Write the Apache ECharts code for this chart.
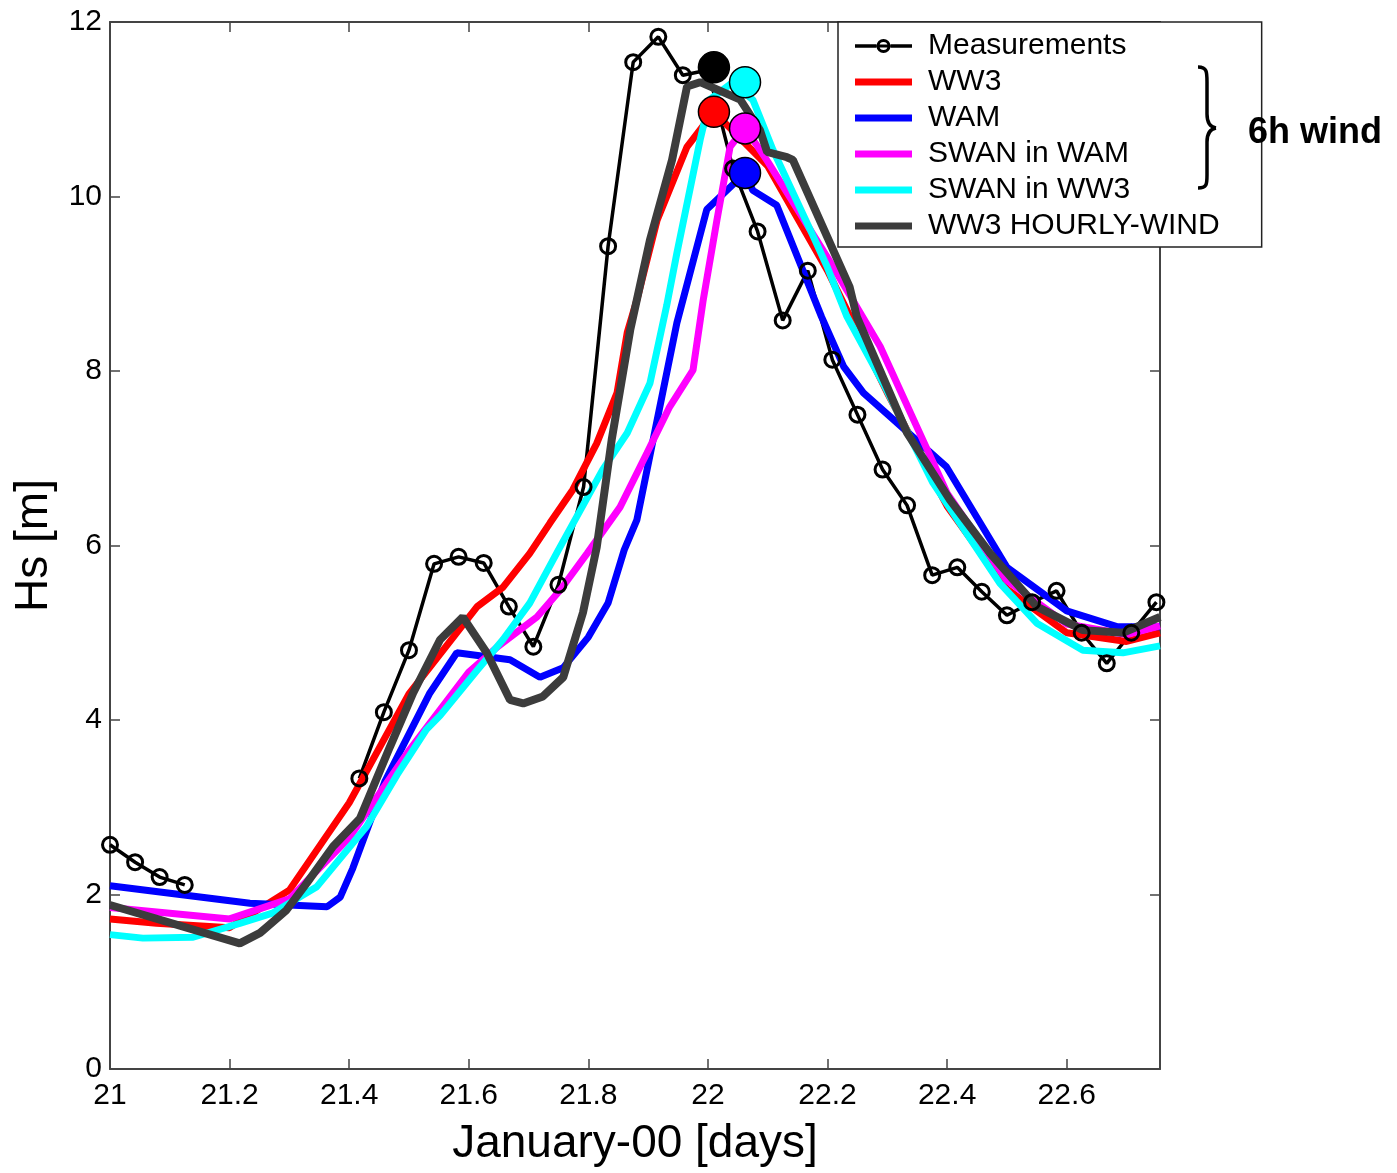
<!DOCTYPE html>
<html>
<head>
<meta charset="utf-8">
<title>Hs January-00</title>
<script src="https://cdn.jsdelivr.net/npm/echarts@6.0.0/dist/echarts.min.js"></script>
<style>
	html, body { margin: 0; padding: 0; background: #fff; }
	#hs { width: 1397px; height: 1173px; }
</style>
</head>
<body>
<div id="hs"></div>
<script>
// hourly buoy measurements (null = not shown)
var measTime = [21.000, 21.042, 21.083, 21.125, 21.167, 21.208, 21.250, 21.292, 21.333, 21.375,
	21.417, 21.458, 21.500, 21.542, 21.583, 21.625, 21.667, 21.708, 21.750, 21.792,
	21.833, 21.875, 21.917, 21.958, 22.000, 22.042, 22.083, 22.125, 22.167, 22.208,
	22.250, 22.292, 22.333, 22.375, 22.417, 22.458, 22.500, 22.542, 22.583, 22.625,
	22.667, 22.708, 22.750];
var measHs = [2.57, 2.37, 2.20, 2.11, null, null, null, null, null, null,
	3.33, 4.09, 4.80, 5.79, 5.87, 5.80, 5.30, 4.84, 5.55, 6.67,
	9.43, 11.54, 11.83, 11.39, 11.45, 10.32, 9.60, 8.58, 9.15, 8.13,
	7.50, 6.87, 6.46, 5.66, 5.75, 5.47, 5.20, 5.35, 5.48, 5.00,
	4.65, 5.00, 5.35];

// WW3, 6h wind
var ww3Time = [21.000, 21.078, 21.200, 21.300, 21.400, 21.500, 21.614, 21.657, 21.702, 21.736,
	21.774, 21.814, 21.848, 21.865, 21.881, 21.915, 21.965, 22.010, 22.100, 22.200,
	22.300, 22.400, 22.500, 22.600, 22.700, 22.756];
var ww3Hs = [1.72, 1.67, 1.62, 2.05, 3.05, 4.30, 5.30, 5.52, 5.91, 6.26,
	6.64, 7.17, 7.75, 8.44, 8.81, 9.73, 10.57, 10.97, 10.35, 9.15,
	7.75, 6.45, 5.50, 5.00, 4.90, 5.00];

// WAM, 6h wind
var wamTime = [21.000, 21.234, 21.363, 21.385, 21.406, 21.460, 21.535, 21.580, 21.669, 21.719,
	21.758, 21.800, 21.833, 21.860, 21.881, 21.948, 21.998, 22.062, 22.075, 22.115,
	22.190, 22.227, 22.260, 22.399, 22.500, 22.600, 22.684, 22.756];
var wamHs = [2.10, 1.90, 1.86, 1.97, 2.30, 3.30, 4.31, 4.77, 4.69, 4.49,
	4.60, 4.95, 5.34, 5.95, 6.29, 8.55, 9.85, 10.27, 10.07, 9.90,
	8.62, 8.05, 7.75, 6.90, 5.75, 5.25, 5.07, 5.07];

// SWAN nested in WAM
var swanWamTime = [21.000, 21.200, 21.300, 21.400, 21.500, 21.600, 21.650, 21.714, 21.753, 21.798,
	21.853, 21.898, 21.936, 21.975, 21.992, 22.015, 22.037, 22.062, 22.100, 22.150,
	22.200, 22.288, 22.400, 22.500, 22.600, 22.700, 22.756];
var swanWamHs = [1.85, 1.72, 1.95, 2.65, 3.65, 4.55, 4.85, 5.18, 5.49, 5.91,
	6.44, 7.06, 7.59, 8.01, 8.81, 9.73, 10.57, 10.79, 10.40, 9.85,
	9.30, 8.28, 6.60, 5.60, 5.10, 4.98, 5.08];

// SWAN nested in WW3
var swanWw3Time = [21.000, 21.055, 21.139, 21.217, 21.273, 21.346, 21.429, 21.480, 21.529, 21.552,
	21.614, 21.657, 21.702, 21.750, 21.824, 21.865, 21.903, 21.931, 21.948, 21.987,
	22.003, 22.040, 22.075, 22.109, 22.171, 22.199, 22.232, 22.293, 22.376, 22.488,
	22.550, 22.627, 22.694, 22.756];
var swanWw3Hs = [1.54, 1.50, 1.51, 1.67, 1.79, 2.09, 2.78, 3.37, 3.89, 4.05,
	4.57, 4.92, 5.34, 5.95, 6.87, 7.29, 7.86, 8.75, 9.35, 10.65,
	11.11, 11.30, 11.11, 10.53, 9.62, 9.20, 8.63, 7.86, 6.72, 5.57,
	5.11, 4.80, 4.77, 4.85];

// WW3, hourly wind
var hourlyTime = [21.000, 21.217, 21.251, 21.295, 21.329, 21.373, 21.418, 21.468, 21.507, 21.552,
	21.590, 21.630, 21.669, 21.691, 21.724, 21.758, 21.791, 21.814, 21.839, 21.870,
	21.903, 21.940, 21.965, 21.987, 22.054, 22.087, 22.099, 22.132, 22.142, 22.187,
	22.237, 22.249, 22.333, 22.405, 22.472, 22.550, 22.627, 22.694, 22.756];
var hourlyHs = [1.88, 1.44, 1.56, 1.82, 2.13, 2.55, 2.87, 3.69, 4.31, 4.92,
	5.18, 4.77, 4.23, 4.19, 4.27, 4.49, 5.23, 5.98, 7.21, 8.47,
	9.50, 10.42, 11.26, 11.31, 11.11, 10.76, 10.51, 10.45, 10.42, 9.73,
	8.96, 8.62, 7.29, 6.52, 5.91, 5.30, 5.03, 5.00, 5.18];

// peak markers
var peakName = ['Measurements', 'SWAN in WW3', 'WW3', 'SWAN in WAM', 'WAM'];
var peakTime = [22.010, 22.062, 22.010, 22.062, 22.062];
var peakHs = [11.48, 11.31, 10.97, 10.78, 10.27];

var legendNames = ['Measurements', 'WW3', 'WAM', 'SWAN in WAM', 'SWAN in WW3', 'WW3 HOURLY-WIND'];

var xTicks = { min: 21, max: 22.756, step: 0.2 };
var yTicks = { min: 0, max: 12, step: 2 };

var FONT = '"Liberation Sans", Arial, sans-serif';
var colors = {
	'Measurements': '#000000',
	'WW3': '#ff0000',
	'WAM': '#0000ff',
	'SWAN in WAM': '#ff00ff',
	'SWAN in WW3': '#00ffff',
	'WW3 HOURLY-WIND': '#3c3c3c'
};
// legend swatches, drawn in a 57x14 box (hair slivers keep the box size)
var BAND_ICON = 'path://M0,0L57,0L57,0.05L0,0.05Z M0,3.5L57,3.5L57,10.5L0,10.5Z M0,13.95L57,13.95L57,14L0,14Z';
var MEAS_ICON = 'path://M0,5.25L21.5,5.25L21.5,8.75L0,8.75Z M35.5,5.25L57,5.25L57,8.75L35.5,8.75Z' +
	' M21.5,7A7,7 0 1,1 35.5,7A7,7 0 1,1 21.5,7Z M24.5,7A4,4 0 1,0 32.5,7A4,4 0 1,0 24.5,7Z' +
	' M24.5,5.6L32.5,5.6L32.5,8.4L24.5,8.4Z';

function pairs(t, v) {
	var out = [];
	for (var i = 0; i < t.length; i++) {
		out.push([t[i], v[i] == null ? '-' : v[i]]);
	}
	return out;
}

function modelLine(name, t, v, w) {
	return {
		name: name,
		type: 'line',
		data: pairs(t, v),
		symbol: 'none',
		color: colors[name],
		lineStyle: { color: colors[name], width: w },
		z: 2
	};
}

function frameAxis(kind, pos, lim, main) {
	return {
		type: 'value',
		position: pos,
		min: lim.min,
		max: lim.max,
		interval: lim.step,
		axisLine: { show: true, onZero: false, lineStyle: { color: '#444', width: 2 } },
		axisTick: { show: true, inside: true, length: 10, lineStyle: { color: '#444', width: 1.5 } },
		axisLabel: { show: main, fontSize: 30, color: '#000', fontFamily: FONT, margin: kind == 'x' ? 12 : 8, showMaxLabel: kind == 'y' },
		splitLine: { show: false }
	};
}

// curly brace next to the legend
function braceCurve(x1, y1, c1x, c1y, c2x, c2y, x2, y2) {
	return {
		type: 'bezierCurve',
		shape: { x1: x1, y1: y1, cpx1: c1x, cpy1: c1y, cpx2: c2x, cpy2: c2y, x2: x2, y2: y2 },
		style: { stroke: '#000', lineWidth: 3.5, fill: null },
		z: 10
	};
}
function braceLine(x1, y1, x2, y2) {
	return {
		type: 'line',
		shape: { x1: x1, y1: y1, x2: x2, y2: y2 },
		style: { stroke: '#000', lineWidth: 3.5 },
		z: 10
	};
}

var hsChart = echarts.init(document.getElementById('hs'));

var xBottom = frameAxis('x', 'bottom', xTicks, true);
xBottom.name = 'January-00 [days]';
xBottom.nameLocation = 'middle';
xBottom.nameGap = 52;
xBottom.nameTextStyle = { fontSize: 46, color: '#000', fontFamily: FONT };

var yLeft = frameAxis('y', 'left', yTicks, true);
yLeft.name = 'Hs [m]';
yLeft.nameLocation = 'middle';
yLeft.nameGap = 34;
yLeft.nameTextStyle = { fontSize: 46, color: '#000', fontFamily: FONT };

var peakData = [];
for (var i = 0; i < peakTime.length; i++) {
	peakData.push({ value: [peakTime[i], peakHs[i]], itemStyle: { color: colors[peakName[i]] } });
}

var legendData = [];
for (var j = 0; j < legendNames.length; j++) {
	if (legendNames[j] == 'Measurements') {
		legendData.push({ name: legendNames[j], icon: MEAS_ICON, itemStyle: { color: '#000', borderWidth: 0 } });
	} else {
		legendData.push({ name: legendNames[j], icon: BAND_ICON });
	}
}

var option = {
	animation: false,
	backgroundColor: '#fff',
	grid: { left: 110, top: 22, right: 237, bottom: 104 },
	xAxis: [xBottom, frameAxis('x', 'top', xTicks, false)],
	yAxis: [yLeft, frameAxis('y', 'right', yTicks, false)],
	legend: {
		orient: 'vertical',
		left: 838,
		top: 22,
		padding: [9, 42, 6, 17],
		itemGap: 6,
		itemWidth: 57,
		itemHeight: 14,
		backgroundColor: '#fff',
		borderColor: '#222',
		borderWidth: 1.5,
		borderRadius: 0,
		textStyle: { fontSize: 30, lineHeight: 30, color: '#000', fontFamily: FONT, padding: [0, 0, 0, 11] },
		data: legendData
	},
	series: [
		{
			name: 'Measurements',
			type: 'line',
			data: pairs(measTime, measHs),
			symbol: 'circle',
			symbolSize: 15,
			showSymbol: true,
			color: '#000',
			itemStyle: { color: 'rgba(0,0,0,0)', borderColor: '#000', borderWidth: 3 },
			lineStyle: { color: '#000', width: 3.5 },
			z: 2
		},
		modelLine('WW3', ww3Time, ww3Hs, 7),
		modelLine('WAM', wamTime, wamHs, 7),
		modelLine('SWAN in WAM', swanWamTime, swanWamHs, 7),
		modelLine('SWAN in WW3', swanWw3Time, swanWw3Hs, 7),
		modelLine('WW3 HOURLY-WIND', hourlyTime, hourlyHs, 8),
		{
			name: 'peaks',
			type: 'scatter',
			data: peakData,
			symbolSize: 31,
			itemStyle: { borderColor: '#000', borderWidth: 1.5, opacity: 1 },
			z: 3
		}
	],
	graphic: [
		braceCurve(1198, 67, 1207, 67, 1207, 72, 1207, 82),
		braceLine(1207, 82, 1207, 114),
		braceCurve(1207, 114, 1207, 123, 1210, 127, 1216, 128),
		braceCurve(1216, 128, 1210, 129, 1207, 133, 1207, 142),
		braceLine(1207, 142, 1207, 175),
		braceCurve(1207, 175, 1207, 184, 1207, 188, 1198, 188),
		{
			type: 'text',
			x: 1248,
			y: 133,
			style: { text: '6h wind', font: 'bold 36px "Liberation Sans", Arial, sans-serif', fill: '#000', textAlign: 'left', textVerticalAlign: 'middle' },
			z: 10
		}
	]
};

hsChart.setOption(option);
window.addEventListener('resize', function () {
	hsChart.resize();
});
</script>
</body>
</html>
